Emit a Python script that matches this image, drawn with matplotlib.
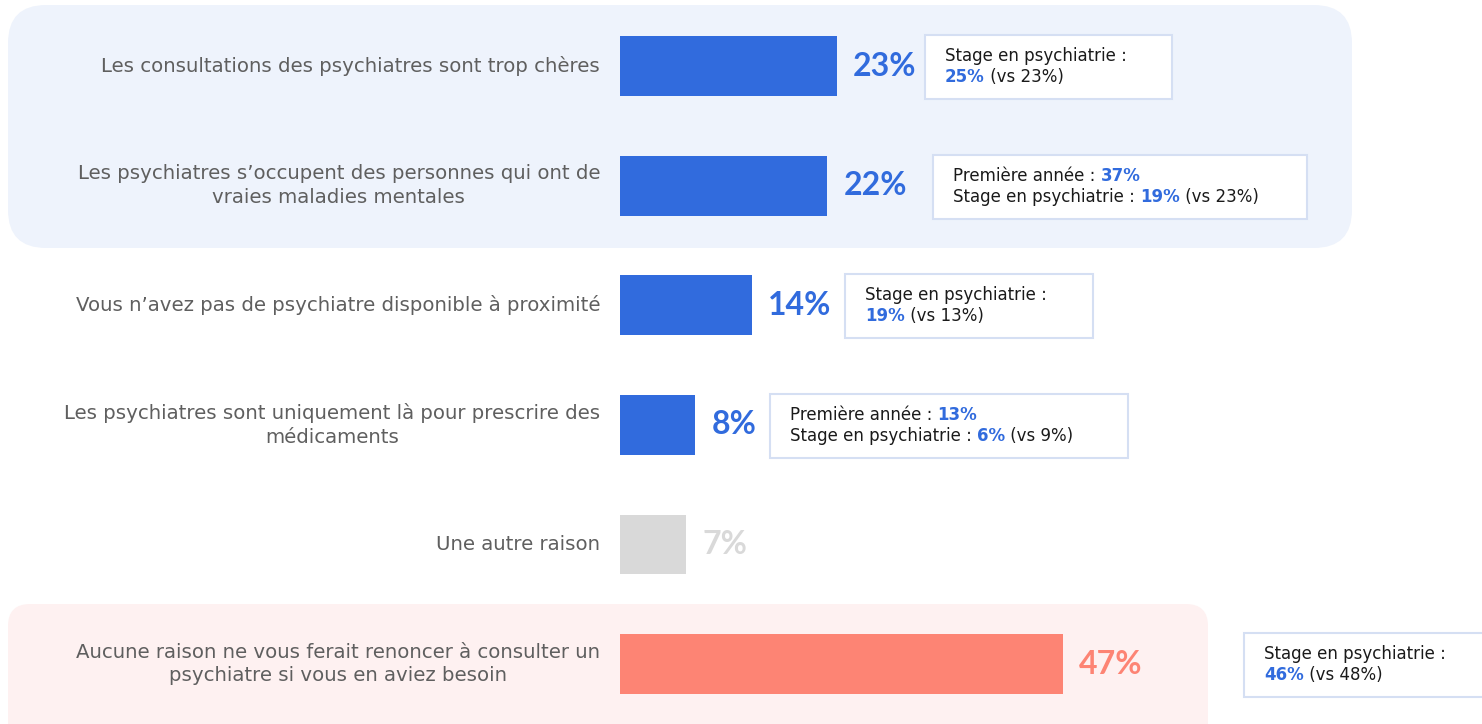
import matplotlib.pyplot as plt
from matplotlib.patches import FancyBboxPatch, Rectangle

plt.rcParams['font.family'] = ['Lato', 'DejaVu Sans']

labels = [
    "Les consultations des psychiatres sont trop chères",
    "Les psychiatres s\u2019occupent des personnes qui ont de\nvraies maladies mentales",
    "Vous n\u2019avez pas de psychiatre disponible à proximité",
    "Les psychiatres sont uniquement là pour prescrire des\nmédicaments",
    "Une autre raison",
    "Aucune raison ne vous ferait renoncer à consulter un\npsychiatre si vous en aviez besoin",
]
values = [23, 22, 14, 8, 7, 47]

BLUE = '#316BDD'
GREY = '#D9D9D9'
SALMON = '#FD8474'
bar_colors = [BLUE, BLUE, BLUE, BLUE, GREY, SALMON]

# side notes: list of lines, each line = list of (text, highlighted)
notes = [
    [[("Stage en psychiatrie :", False)], [("25%", True), (" (vs 23%)", False)]],
    [[("Première année : ", False), ("37%", True)],
     [("Stage en psychiatrie : ", False), ("19%", True), (" (vs 23%)", False)]],
    [[("Stage en psychiatrie :", False)], [("19%", True), (" (vs 13%)", False)]],
    [[("Première année : ", False), ("13%", True)],
     [("Stage en psychiatrie : ", False), ("6%", True), (" (vs 9%)", False)]],
    None,
    [[("Stage en psychiatrie :", False)], [("46%", True), (" (vs 48%)", False)]],
]
# note box left edge / width in pixels
note_x = [925, 933, 845, 770, None, 1244]
note_w = [247, 374, 248, 358, None, 250]

W, H = 1482, 724
PX0 = 620          # pixel where bars start
PX_PER = 9.43      # pixels per percent
ROW0, ROW_H = 66, 119.6

fig = plt.figure(figsize=(W / 100, H / 100), dpi=100)

# background layer in pixel coords
bg = fig.add_axes([0, 0, 1, 1])
bg.set_xlim(0, W)
bg.set_ylim(H, 0)
bg.axis('off')

bg.add_patch(FancyBboxPatch((8, 5), 1344, 243, boxstyle="round,pad=0,rounding_size=38",
                            fc='#EEF3FC', ec='none'))
bg.add_patch(FancyBboxPatch((8, 604), 1200, 160, boxstyle="round,pad=0,rounding_size=22",
                            fc='#FEF1F1', ec='none'))

ax = fig.add_axes([0, 0, 1, 1])
ax.patch.set_alpha(0)
ax.set_xlim(-PX0 / PX_PER, (W - PX0) / PX_PER)
ax.set_ylim((H - ROW0) / ROW_H, -ROW0 / ROW_H)
ax.axis('off')

ypos = list(range(len(values)))
ax.barh(ypos, values, height=0.5, color=bar_colors)

for i, (lab, v) in enumerate(zip(labels, values)):
    ax.text(-20 / PX_PER, i, lab, ha='right', va='center', multialignment='center',
            fontsize=14.2, color='#5f5f5f', linespacing=1.3, family='DejaVu Sans')
    ax.text(v + 16 / PX_PER, i, f"{v}%", ha='left', va='center', fontsize=23,
            fontweight='bold', color=bar_colors[i])

    if notes[i] is None:
        continue
    cy = ROW0 + i * ROW_H
    x0 = note_x[i]
    bg.add_patch(Rectangle((x0, cy - 31), note_w[i], 64, fc='white', ec='#D5DFF3', lw=1.5,
                           zorder=2))
    for j, line in enumerate(notes[i]):
        ly = cy - 10 + j * 21
        t = None
        for txt, hl in line:
            kw = dict(fontsize=12, color=BLUE if hl else '#1a1a1a',
                      fontweight='bold' if hl else 'normal', zorder=3,
                      family='DejaVu Sans')
            if t is None:
                t = bg.text(x0 + 20, ly, txt, ha='left', va='center', **kw)
            else:
                t = bg.annotate(txt, xy=(1, 0), xycoords=t, ha='left', va='bottom', **kw)

fig.savefig('out.png', dpi=100)
